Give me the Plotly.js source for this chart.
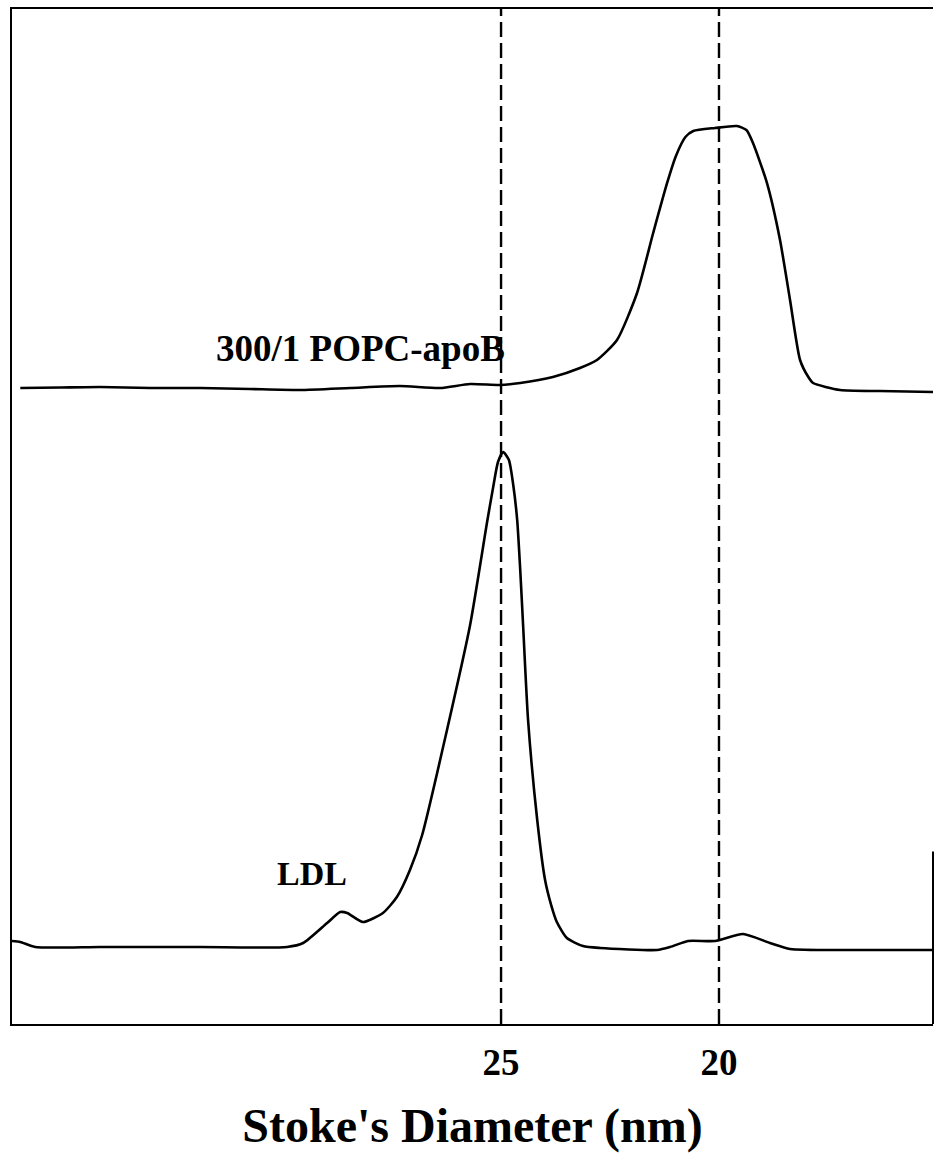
<!DOCTYPE html>
<html>
<head>
<meta charset="utf-8">
<script src="https://cdn.plot.ly/plotly-3.0.1.min.js"></script>
<style>
  html, body { margin: 0; padding: 0; background: #fff; }
  #chart { width: 934px; height: 1165px; }
</style>
</head>
<body>
<div id="chart"></div>
<script>
// Stokes diameter (nm) and detector response (arbitrary units), 300/1 POPC-apoB particles
const popcDiameter = [36.03, 35.11, 34.20, 33.05, 31.90, 30.76, 29.61, 28.46, 27.32, 26.40, 25.71, 25.02,
  24.56, 23.81, 23.19, 22.80, 22.34, 21.88, 21.51, 21.19, 20.99, 20.77, 20.59, 20.09, 19.59, 19.37,
  19.22, 18.90, 18.60, 18.37, 18.14, 17.95, 17.84, 17.22, 16.31, 15.09];
const popcSignal = [62.66, 62.71, 62.76, 62.66, 62.66, 62.56, 62.46, 62.66, 62.86, 62.66, 63.05, 62.96,
  63.15, 63.74, 64.63, 65.42, 67.39, 72.02, 77.93, 82.86, 85.50, 87.39, 87.98, 88.28, 88.47, 88.08,
  86.80, 82.86, 77.24, 71.33, 65.42, 63.74, 63.15, 62.46, 62.36, 62.27];

// Native LDL
const ldlDiameter = [36.22, 36.03, 35.69, 34.20, 31.90, 29.91, 29.54, 28.99, 28.69, 28.53, 28.17, 27.71,
  27.39, 27.09, 26.81, 26.24, 25.71, 25.32, 25.18, 25.07, 24.95, 24.82, 24.72, 24.63, 24.56, 24.50,
  24.38, 24.17, 23.99, 23.85, 23.72, 23.49, 23.12, 22.73, 21.42, 21.12, 20.71, 20.09, 19.45, 18.83,
  18.37, 16.99, 15.09];
const ldlSignal = [8.18, 8.08, 7.59, 7.59, 7.59, 7.59, 7.98, 9.95, 11.03, 10.94, 10.05, 10.94,
  12.51, 15.17, 18.62, 28.97, 39.31, 49.46, 52.91, 55.37, 56.35, 55.57, 53.10, 49.66, 44.73, 39.80,
  29.95, 20.10, 14.19, 11.72, 10.05, 8.47, 7.68, 7.49, 7.29, 7.59, 8.18, 8.18, 8.87, 7.98,
  7.39, 7.29, 7.29];

// Reference diameters marked with dashed lines and tick labels
const refDiameters = [25, 20];
const refLabels = ['25', '20'];

// Curve labels
const curveLabels = ['300/1 POPC-apoB', 'LDL'];
const labelDiameter = [28.23, 29.33];
const labelSignal = [66.6, 14.8];

const serif = 'Liberation Serif, Times New Roman, serif';

const traceStyle = {
  type: 'scatter', mode: 'lines', hoverinfo: 'skip', showlegend: false,
  line: { color: '#000', width: 2.6, shape: 'spline', smoothing: 0.6 }
};

const traces = [
  Object.assign({ x: popcDiameter, y: popcSignal }, traceStyle),
  Object.assign({ x: ldlDiameter, y: ldlSignal }, traceStyle)
];

const shapes = refDiameters.map(d => ({
  type: 'line', xref: 'x', yref: 'paper', x0: d, x1: d, y0: 0, y1: 1,
  line: { color: '#000', width: 2.4, dash: '15px,6px' }
}));
// short right-hand frame edge near the baseline
shapes.push({
  type: 'line', xref: 'paper', yref: 'paper', x0: 1, x1: 1, y0: 0, y1: 0.17,
  line: { color: '#000', width: 2 }
});

const annotations = curveLabels.map((t, i) => ({
  text: '<b>' + t + '</b>', x: labelDiameter[i], y: labelSignal[i], xref: 'x', yref: 'y',
  showarrow: false, xanchor: 'center', yanchor: 'middle',
  font: { family: serif, size: i === 0 ? 37 : 34, color: '#000' }
}));

const layout = {
  width: 934, height: 1165,
  margin: { l: 12, r: 1, t: 9, b: 141 },
  paper_bgcolor: '#fff', plot_bgcolor: '#fff',
  showlegend: false,
  xaxis: {
    range: [36.22, 15.09],
    showline: true, linecolor: '#000', linewidth: 2, mirror: true,
    showgrid: false, zeroline: false,
    ticks: '', tickvals: refDiameters, ticktext: refLabels.map(s => '<b>' + s + '</b>'),
    ticklabelstandoff: 5,
    tickfont: { family: serif, size: 37, color: '#000' },
    title: { text: "<b>Stoke's Diameter (nm)</b>", standoff: 26,
             font: { family: serif, size: 48, color: '#000' } }
  },
  yaxis: {
    range: [0, 100],
    showline: true, linecolor: '#000', linewidth: 2,
    showgrid: false, zeroline: false, showticklabels: false, ticks: ''
  },
  shapes: shapes,
  annotations: annotations
};

Plotly.newPlot('chart', traces, layout, { displayModeBar: false, staticPlot: true });
</script>
</body>
</html>
